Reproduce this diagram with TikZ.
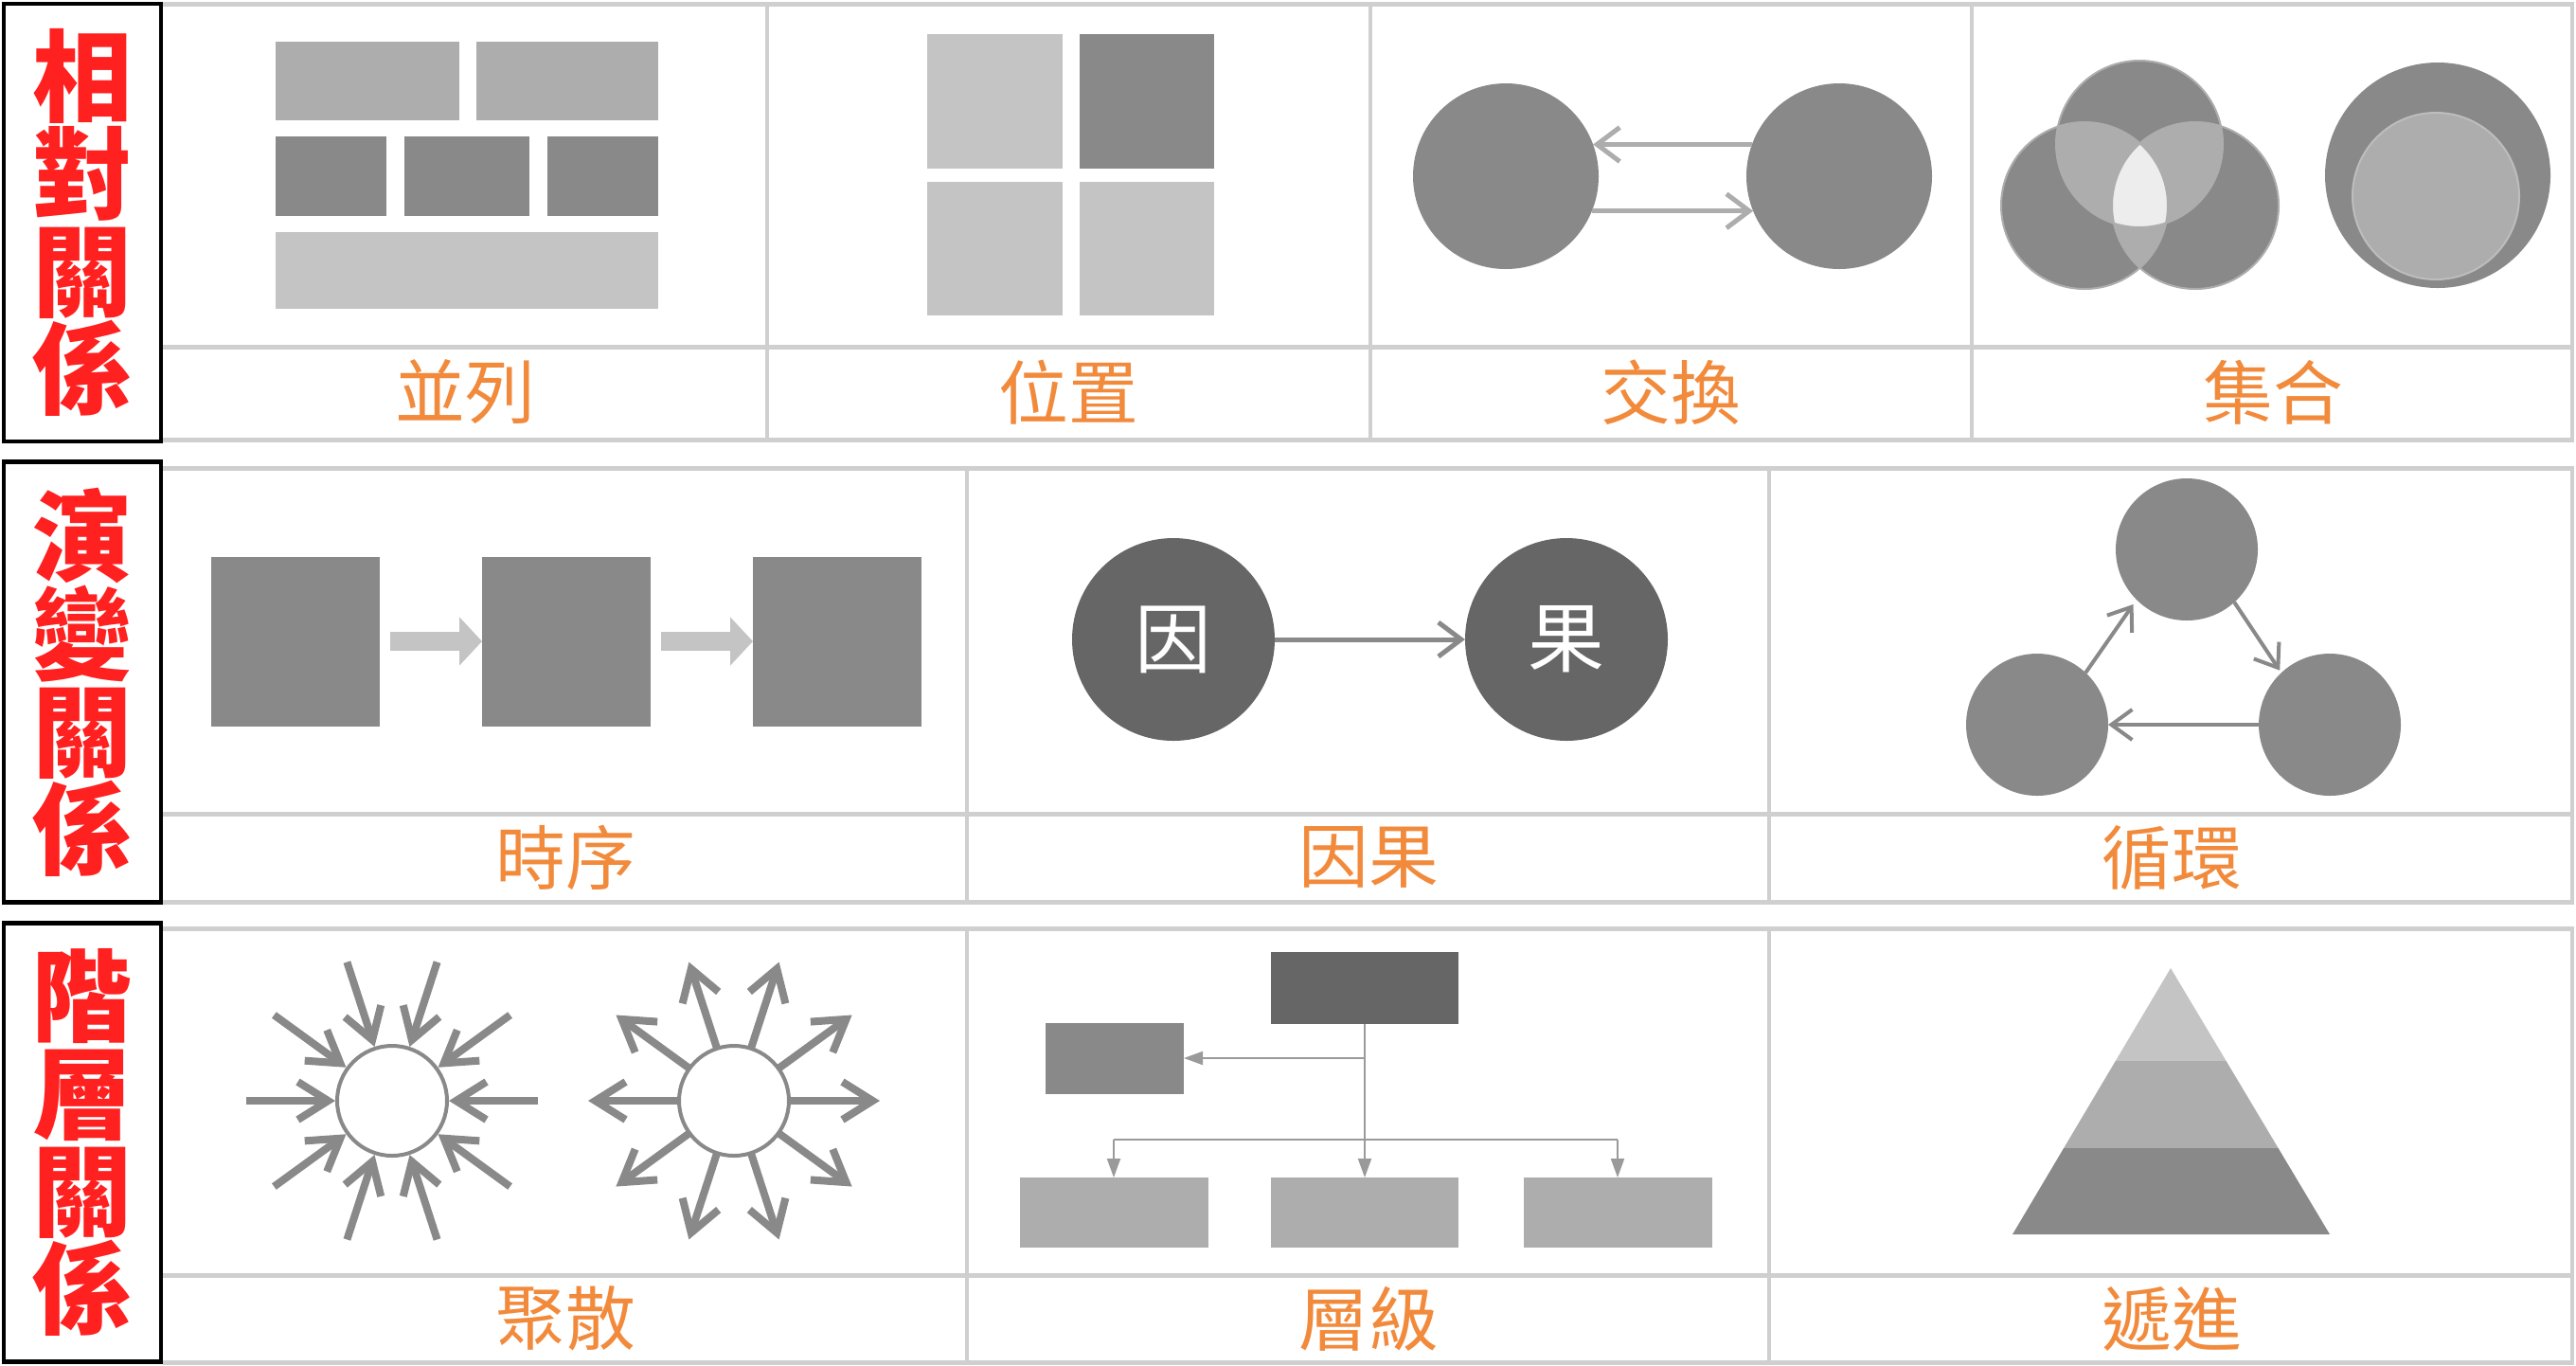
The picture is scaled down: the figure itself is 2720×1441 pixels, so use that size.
\documentclass[tikz,border=0pt]{standalone}
\usepackage{fontspec}
\newfontfamily\cjk{Noto Sans CJK TC}
\usepackage{tikz}
\usetikzlibrary{arrows.meta,positioning}
\definecolor{shadeA}{HTML}{C4C4C4}
\definecolor{shadeB}{HTML}{ADADAD}
\definecolor{shadeC}{HTML}{898989}
\definecolor{shadeD}{HTML}{666666}
\definecolor{wiregray}{HTML}{9A9A9A}
\definecolor{rulegray}{HTML}{CFCFCF}
\definecolor{labelorange}{HTML}{F28A3C}
\definecolor{catred}{HTML}{FF2020}

\begin{document}
\begin{tikzpicture}[x=0.1mm, y=-0.1mm,
    tile/.style={rectangle, inner sep=0pt, outer sep=0pt},
    disc/.style={circle, inner sep=0pt, outer sep=0pt},
    catbox/.style={rectangle, draw=black, line width=0.45mm, inner sep=0pt,
                   minimum width=16.6mm, text=catred, align=center,
                   font=\cjk\bfseries\fontsize{30}{29.3}\selectfont},
    lbl/.style={text=labelorange, inner sep=0pt, font=\cjk\fontsize{21}{21}\selectfont},
    hrule/.style={draw=rulegray, line width=0.5mm},
    vrule/.style={draw=rulegray, line width=0.35mm},
    barb/.style={-{Straight Barb[length=2.4mm,width=3.6mm]}, line width=0.5mm, draw=shadeC},
    cyc/.style={-{Straight Barb[length=2.2mm,width=3.2mm]}, line width=0.4mm, draw=shadeC},
    ray/.style={-{Straight Barb[length=3.2mm,width=4mm]}, line width=0.8mm, draw=shadeC},
    blockarrow/.style={-{Triangle[length=2.4mm,width=5mm]}, line width=2mm, draw=shadeA},
    link/.style={-{Triangle[length=2mm,width=1.4mm]}, line width=0.2mm, draw=wiregray}
  ]
  \useasboundingbox (0,0) rectangle (2720,1441);
  \fill[white] (0,0) rectangle (2720,1441);

  % table rules
  \foreach \yt/\ym/\yb in {4/366/464, 494/859/952, 980/1346/1438}
    \foreach \yy in {\yt,\ym,\yb}
      \draw[hrule] (172,\yy) -- (2718,\yy);
  \foreach \xx in {810,1447,2082,2716}
    \draw[vrule] (\xx,4) -- (\xx,464);
  \foreach \yt/\yb in {494/952, 980/1438}
    \foreach \xx in {1021,1868,2716}
      \draw[vrule] (\xx,\yt) -- (\xx,\yb);

  % category boxes
  \node[catbox, minimum height=46.2mm] (cat1) at (87,235) {相\\對\\關\\係};
  \node[catbox, minimum height=46.5mm] (cat2) at (87,720) {演\\變\\關\\係};
  \node[catbox, minimum height=46.3mm] (cat3) at (87,1206) {階\\層\\關\\係};

  % labels
  \node[lbl] (lab11) at (491,414) {並列};
  \node[lbl] (lab12) at (1128,414) {位置};
  \node[lbl] (lab13) at (1764,414) {交換};
  \node[lbl] (lab14) at (2400,414) {集合};
  \node[lbl] (lab21) at (597,905) {時序};
  \node[lbl] (lab22) at (1445,905) {因果};
  \node[lbl] (lab23) at (2293,905) {循環};
  \node[lbl] (lab31) at (597,1392) {聚散};
  \node[lbl] (lab32) at (1445,1392) {層級};
  \node[lbl] (lab33) at (2293,1392) {遞進};

  % parallel
  \node[tile, fill=shadeB, minimum width=19.4mm, minimum height=8.3mm] (pa1) at (388,85) {};
  \node[tile, fill=shadeB, minimum width=19.2mm, minimum height=8.3mm] (pa2) at (599,85) {};
  \node[tile, fill=shadeC, minimum width=11.7mm, minimum height=8.4mm] (pb1) at (349,186) {};
  \node[tile, fill=shadeC, minimum width=13.2mm, minimum height=8.4mm] (pb2) at (493,186) {};
  \node[tile, fill=shadeC, minimum width=11.7mm, minimum height=8.4mm] (pb3) at (636,186) {};
  \node[tile, fill=shadeA, minimum width=40.4mm, minimum height=8.1mm] (pc1) at (493,285) {};

  % position
  \node[tile, fill=shadeA, minimum width=14.3mm, minimum height=14.2mm] (q1) at (1050,107) {};
  \node[tile, fill=shadeC, minimum width=14.2mm, minimum height=14.2mm] (q2) at (1211,107) {};
  \node[tile, fill=shadeA, minimum width=14.3mm, minimum height=14.1mm] (q3) at (1050,262) {};
  \node[tile, fill=shadeA, minimum width=14.2mm, minimum height=14.1mm] (q4) at (1211,262) {};

  % exchange
  \node[disc, fill=shadeC, minimum size=19.6mm] (xa) at (1590,186) {};
  \node[disc, fill=shadeC, minimum size=19.6mm] (xb) at (1942,186) {};
  \draw[barb, draw=shadeB] (xb.160) -- (xa.20);
  \draw[barb, draw=shadeB] (xa.-22) -- (xb.-158);

  % sets
  \node[disc, fill=shadeC, minimum size=17.6mm] (vt) at (2259,152) {};
  \node[disc, fill=shadeC, minimum size=17.6mm] (vl) at (2201,217) {};
  \node[disc, fill=shadeC, minimum size=17.6mm] (vr) at (2318,217) {};
  \begin{scope}
    \clip (vt.center) circle[radius=8.8mm];
    \fill[shadeB] (vl.center) circle[radius=8.8mm] (vr.center) circle[radius=8.8mm];
  \end{scope}
  \begin{scope}
    \clip (vl.center) circle[radius=8.8mm];
    \fill[shadeB] (vr.center) circle[radius=8.8mm];
  \end{scope}
  \begin{scope}
    \clip (vt.center) circle[radius=8.8mm];
    \clip (vl.center) circle[radius=8.8mm];
    \fill[white!93!black] (vr.center) circle[radius=8.8mm];
  \end{scope}
  \foreach \v in {vt,vl,vr}
    \draw[shadeB, line width=0.2mm] (\v.center) circle[radius=8.8mm];
  \node[disc, fill=shadeC, minimum size=23.8mm] (so) at (2574,185) {};
  \node[disc, fill=shadeB, draw=shadeB!80!white, line width=0.2mm, minimum size=17.6mm] (si) at (2572,207) {};

  % sequence
  \node[tile, fill=shadeC, minimum width=17.8mm, minimum height=17.9mm] (s1) at (312,677) {};
  \node[tile, fill=shadeC, minimum width=17.8mm, minimum height=17.9mm, right=10.8mm of s1] (s2) {};
  \node[tile, fill=shadeC, minimum width=17.8mm, minimum height=17.9mm, right=10.8mm of s2] (s3) {};
  \foreach \a/\b in {s1/s2, s2/s3}
    \draw[blockarrow] ([xshift=1.1mm]\a.east) -- (\b.west);

  % cause and effect
  \node[disc, fill=shadeD, minimum size=21.4mm, text=white,
        font=\cjk\fontsize{23}{23}\selectfont] (yin) at (1239,675) {因};
  \node[disc, fill=shadeD, minimum size=21.4mm, text=white,
        font=\cjk\fontsize{23}{23}\selectfont] (guo) at (1654,675) {果};
  \draw[barb] (yin) -- (guo);

  % cycle
  \node[disc, fill=shadeC, minimum size=15mm] (ct) at (2309,580) {};
  \node[disc, fill=shadeC, minimum size=15mm] (cl) at (2151,765) {};
  \node[disc, fill=shadeC, minimum size=15mm] (cr) at (2460,765) {};
  \draw[cyc, shorten >=0.6mm] (cl.47) -- (ct.225);
  \draw[cyc, shorten >=0.3mm] (ct.-48) -- (cr.133);
  \draw[cyc] (cr.west) -- (cl.east);

  % gather and scatter
  \node[disc, draw=shadeC, fill=white, line width=0.4mm, minimum size=11.6mm] (gin) at (414,1162) {};
  \node[disc, draw=shadeC, fill=white, line width=0.4mm, minimum size=11.6mm] (gout) at (775,1162) {};
  \foreach \a in {0,36,...,324} {
    \draw[ray, shorten >=0.2mm] ([shift={(\a:15.4mm)}]gin.center) -- (gin.\a);
    \draw[ray] (gout.\a) -- ([shift={(\a:15.4mm)}]gout.center);
  }

  % hierarchy
  \node[tile, fill=shadeD, minimum width=19.8mm, minimum height=7.6mm] (boss) at (1441,1043) {};
  \node[tile, fill=shadeC, minimum width=14.6mm, minimum height=7.5mm] (aide) at (1177,1117) {};
  \node[tile, fill=shadeB, minimum width=19.9mm, minimum height=7.4mm] (w1) at (1176,1280) {};
  \node[tile, fill=shadeB, minimum width=19.8mm, minimum height=7.4mm] (w2) at (1441,1280) {};
  \node[tile, fill=shadeB, minimum width=19.9mm, minimum height=7.4mm] (w3) at (1708,1280) {};
  \coordinate (bar) at (1441,1203);
  \draw[link] (boss.south) -- (w2.north);
  \draw[link] (boss.south |- aide.east) -- (aide.east);
  \draw[line width=0.2mm, draw=wiregray] (w1.north |- bar) -- (w3.north |- bar);
  \foreach \w in {w1,w3}
    \draw[link] (\w.north |- bar) -- (\w.north);

  % progression
  \coordinate (apex) at (2292,1022);
  \coordinate (baseL) at (2125,1303);
  \coordinate (baseR) at (2460,1303);
  \begin{scope}
    \clip (apex) -- (baseR) -- (baseL) -- cycle;
    \fill[shadeA] (2100,1000) rectangle (2480,1120);
    \fill[shadeB] (2100,1120) rectangle (2480,1212);
    \fill[shadeC] (2100,1212) rectangle (2480,1310);
  \end{scope}
\end{tikzpicture}
\end{document}
